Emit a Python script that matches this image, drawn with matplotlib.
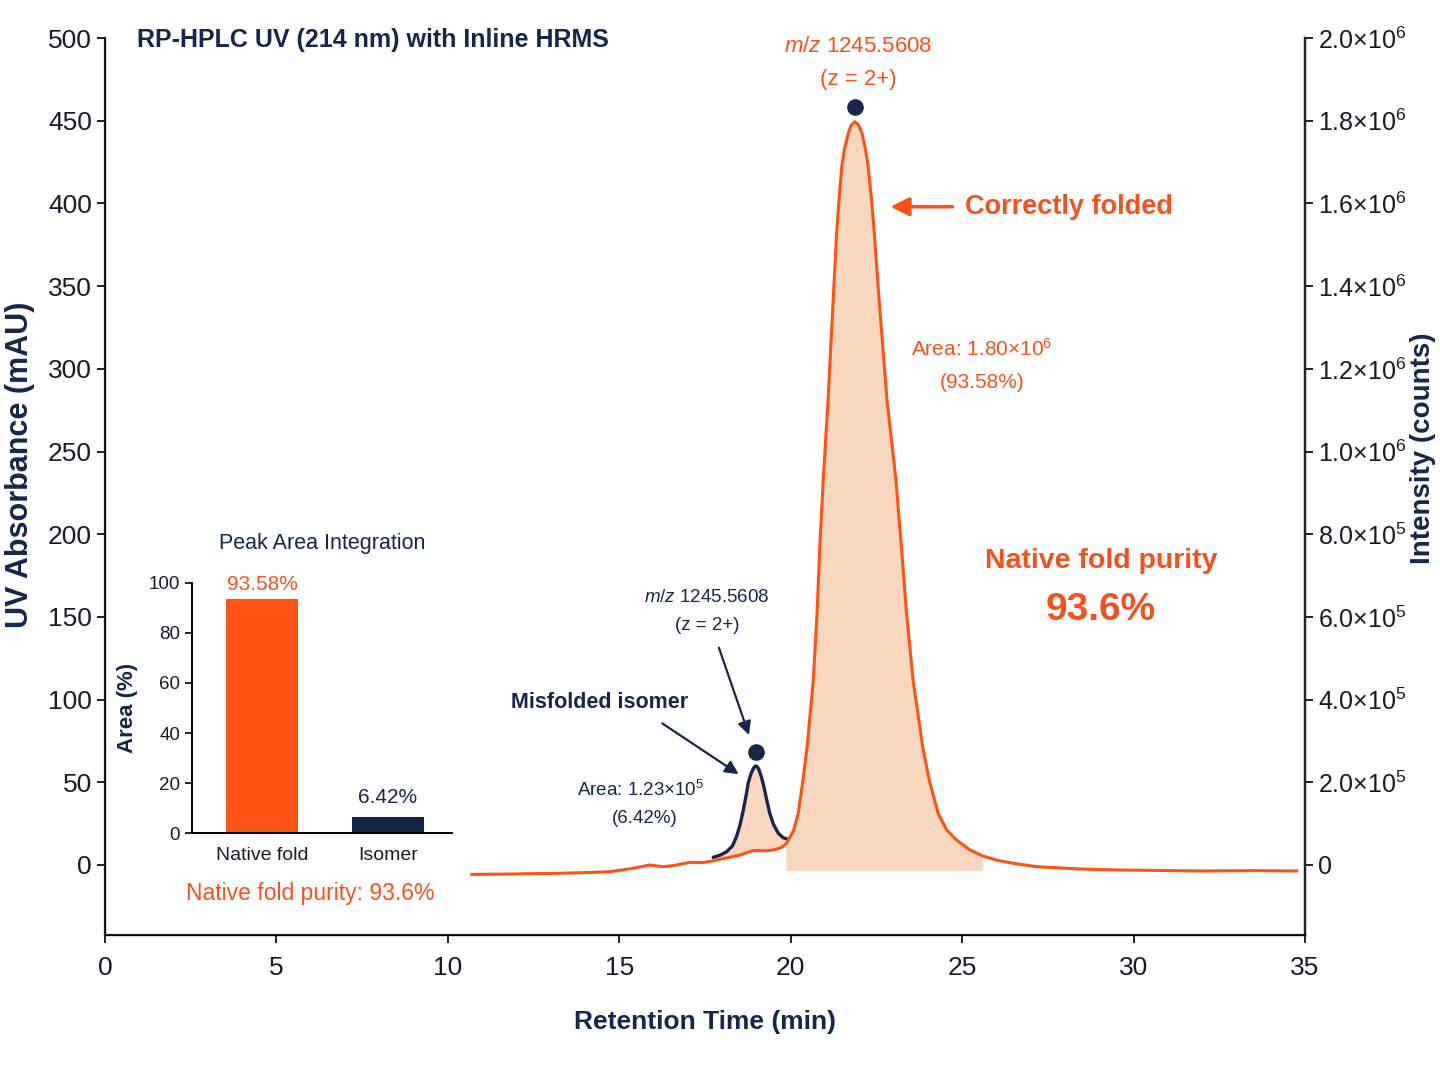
import numpy as np
import matplotlib
matplotlib.use("Agg")
import matplotlib.pyplot as plt

plt.rcParams['font.family'] = ['Liberation Sans', 'DejaVu Sans']
plt.rcParams['mathtext.fontset'] = 'custom'
plt.rcParams['mathtext.rm'] = 'Liberation Sans'
plt.rcParams['mathtext.it'] = 'Liberation Sans:italic'

ORANGE = '#FF5314'
TXT_OR = '#F2531E'
NAVY = '#16274A'
PEACH = '#F9D7BE'

# UV trace at 214 nm (min, mAU)
uv_time = [10.70, 12.00, 13.27, 14.20, 14.73, 15.10, 15.40, 15.65, 15.89, 16.10,
           16.27, 16.48, 16.68, 16.88, 17.06, 17.25, 17.44, 17.75, 18.02, 18.30,
           18.52, 18.72, 18.90, 19.05, 19.19, 19.35, 19.48, 19.65, 19.77, 19.86,
           19.93, 20.01, 20.09, 20.22, 20.36, 20.48, 20.66, 20.77, 20.85, 20.95,
           21.09, 21.24, 21.34, 21.41, 21.49, 21.56, 21.68, 21.77, 21.87, 21.98,
           22.08, 22.19, 22.26, 22.36, 22.44, 22.58, 22.81, 23.07, 23.23, 23.38,
           23.57, 23.85, 24.04, 24.30, 24.55, 24.84, 25.23, 25.60, 26.00, 26.50,
           27.17, 28.43, 29.50, 31.93, 33.50, 34.76]
uv_mau = [-5.7, -5.4, -5.0, -4.5, -4.0, -3.0, -2.0, -1.0, 0.0, -0.6,
          -1.0, -0.6, 0.0, 0.9, 1.6, 1.5, 1.4, 2.6, 3.8, 5.0,
          6.0, 7.5, 8.7, 8.8, 8.5, 8.7, 9.1, 10.0, 11.1, 12.8,
          15.1, 18.0, 21.2, 31.3, 51.4, 71.5, 111.9, 152.2, 192.4, 232.8,
          281.1, 341.6, 381.9, 402.1, 422.2, 432.0, 442.4, 447.4, 449.4, 447.4,
          442.4, 432.0, 422.2, 402.1, 381.9, 341.6, 281.1, 232.8, 192.4, 152.2,
          111.9, 71.5, 51.4, 31.3, 21.2, 15.1, 9.1, 5.5, 3.0, 1.0,
          -1.0, -2.4, -3.0, -3.6, -3.4, -3.6]

# misfolded isomer trace (extracted)
iso_time = [17.74, 17.95, 18.13, 18.30, 18.42, 18.52, 18.62, 18.70, 18.76, 18.83,
            18.89, 18.94, 18.98, 19.03, 19.08, 19.15, 19.22, 19.30, 19.39, 19.50,
            19.64, 19.78, 19.93]
iso_mau = [4.6, 6.0, 8.0, 11.5, 17.1, 24.0, 33.3, 42.0, 49.4, 54.5,
           57.4, 59.2, 59.9, 59.3, 57.4, 53.0, 47.3, 39.5, 31.3, 24.5,
           19.2, 16.5, 15.5]

# MS apex markers
apex_time = [21.89, 19.00]
apex_mau = [458, 68.5]

# peak area integration
bar_names = ['Native fold', 'Isomer']
bar_pct = [93.58, 6.42]

xticks = [0, 5, 10, 15, 20, 25, 30, 35]
yticks = list(range(0, 501, 50))
rticks = [0, 2e5, 4e5, 6e5, 8e5, 1e6, 1.2e6, 1.4e6, 1.6e6, 1.8e6, 2e6]
rlabels = ['0', '2.0×10$^{5}$', '4.0×10$^{5}$', '6.0×10$^{5}$', '8.0×10$^{5}$',
           '1.0×10$^{6}$', '1.2×10$^{6}$', '1.4×10$^{6}$', '1.6×10$^{6}$',
           '1.8×10$^{6}$', '2.0×10$^{6}$']

fig = plt.figure(figsize=(14.4, 10.8), dpi=100)
ax = fig.add_axes([0.0729, 0.1343, 0.8333, 0.8305])
ymin, ymax = -42.3, 500
ax.set_xlim(0, 35)
ax.set_ylim(ymin, ymax)

t = np.array(uv_time)
v = np.array(uv_mau)
ti = np.array(iso_time)
vi = np.array(iso_mau)

# fills
m = (t >= 19.86) & (t <= 25.6)
ax.fill_between(t[m], v[m], -3.2, color=PEACH, lw=0, zorder=1)
base_iso = np.interp(ti, t, v)
ax.fill_between(ti, vi, base_iso, color=PEACH, lw=0, zorder=1)

ax.plot(ti, vi, color=NAVY, lw=2.4, zorder=3, solid_capstyle='round')
ax.plot(t, v, color=ORANGE, lw=2.2, zorder=4)
ax.scatter(apex_time, apex_mau, s=120, color=NAVY, zorder=5)

ax.spines['top'].set_visible(False)
for s in ['left', 'right', 'bottom']:
    ax.spines[s].set_color('#222222')
    ax.spines[s].set_linewidth(1.6)
ax.set_xticks(xticks)
ax.set_yticks(yticks)
ax.tick_params(axis='both', colors='#222222', labelcolor='#1a1a2a', labelsize=19,
               length=6, width=1.4)
ax.tick_params(axis='x', pad=9)
ax.set_xlabel('Retention Time (min)', fontsize=19, color=NAVY, fontweight='bold',
              labelpad=22)
fig.text(0.014, 0.570, 'UV Absorbance (mAU)', rotation=90, fontsize=22, color=NAVY,
         fontweight='bold', ha='center', va='center')

ax2 = ax.twinx()
ax2.set_ylim(ymin * 4000, ymax * 4000)
ax2.spines['top'].set_visible(False)
ax2.spines['right'].set_linewidth(1.6)
ax2.spines['right'].set_color('#222222')
ax2.set_yticks(rticks)
ax2.set_yticklabels(rlabels)
ax2.tick_params(axis='y', labelsize=18, length=6, width=1.4, labelcolor='#1a1a2a',
                colors='#222222')
ax2.tick_params(axis='y', labelcolor='#1a1a2a')
fig.text(0.988, 0.585, 'Intensity (counts)', rotation=90, fontsize=20, color=NAVY,
         fontweight='bold', ha='center', va='center')

ax.text(0.92, 498.5, 'RP-HPLC UV (214 nm) with Inline HRMS', fontsize=18, color=NAVY,
        fontweight='bold', ha='left', va='center')

# main peak annotations
ax.text(21.96, 495, '$m/z$ 1245.5608', fontsize=16, color=TXT_OR, ha='center', va='center')
ax.text(21.96, 475, '(z = 2+)', fontsize=16, color=TXT_OR, ha='center', va='center')
ax.annotate('', xy=(22.83, 398), xytext=(24.8, 398),
            arrowprops=dict(arrowstyle='-|>', color=ORANGE, lw=2.5, mutation_scale=28))
ax.text(25.08, 398, 'Correctly folded', fontsize=19.5, color=TXT_OR, fontweight='bold',
        ha='left', va='center')
ax.text(25.58, 312, 'Area: 1.80×10$^{6}$', fontsize=15, color=TXT_OR, ha='center', va='center')
ax.text(25.58, 292, '(93.58%)', fontsize=15, color=TXT_OR, ha='center', va='center')
ax.text(29.05, 184, 'Native fold purity', fontsize=20.5, color=TXT_OR, fontweight='bold',
        ha='center', va='center')
ax.text(29.05, 154, '93.6%', fontsize=28, color=TXT_OR, fontweight='bold',
        ha='center', va='center')

# isomer annotations
ax.text(17.56, 162, '$m/z$ 1245.5608', fontsize=13.5, color=NAVY, ha='center', va='center')
ax.text(17.56, 145, '(z = 2+)', fontsize=13.5, color=NAVY, ha='center', va='center')
ax.annotate('', xy=(18.81, 77), xytext=(17.88, 133),
            arrowprops=dict(arrowstyle='-|>', color=NAVY, lw=1.6, mutation_scale=20))
ax.text(14.44, 98.5, 'Misfolded isomer', fontsize=15.5, color=NAVY, fontweight='bold',
        ha='center', va='center')
ax.annotate('', xy=(18.55, 54), xytext=(16.19, 86.5),
            arrowprops=dict(arrowstyle='-|>', color=NAVY, lw=1.6, mutation_scale=20))
ax.text(15.63, 45.3, 'Area: 1.23×10$^{5}$', fontsize=13.5, color=NAVY, ha='center', va='center')
ax.text(15.75, 28.4, '(6.42%)', fontsize=13.5, color=NAVY, ha='center', va='center')

# inset bar chart
ins = fig.add_axes([0.1333, 0.2284, 0.1806, 0.232])
ins.patch.set_alpha(0)
xpos = np.arange(len(bar_names))
ins.bar(xpos, bar_pct, width=0.571, color=[ORANGE, '#0F2446'])
ins.set_xlim(-0.56, 1.51)
ins.set_ylim(0, 100)
ins.set_yticks([0, 20, 40, 60, 80, 100])
ins.set_xticks(xpos)
ins.set_xticklabels(bar_names)
ins.tick_params(axis='x', length=0, labelsize=14, pad=10, labelcolor='#1a1a2a')
ins.tick_params(axis='y', labelsize=13.5, length=5, width=1.2, labelcolor='#1a1a2a')
for s in ['top', 'right']:
    ins.spines[s].set_visible(False)
ins.spines['left'].set_linewidth(1.4)
ins.spines['bottom'].set_linewidth(1.4)
ins.set_ylabel('Area (%)', fontsize=16, fontweight='bold', color=NAVY, labelpad=8)
ins.set_title('Peak Area Integration', fontsize=15.5, color=NAVY, pad=24)
ins.text(xpos[0], bar_pct[0] + 2, f'{bar_pct[0]:.2f}%', fontsize=15, color=TXT_OR,
         ha='center', va='bottom')
ins.text(xpos[1], bar_pct[1] + 4, f'{bar_pct[1]:.2f}%', fontsize=15, color=NAVY,
         ha='center', va='bottom')
fig.text(0.2153, 0.173, 'Native fold purity: 93.6%', fontsize=16.5, color=TXT_OR,
         ha='center', va='center')

fig.savefig('out.png', dpi=100, facecolor='white')
